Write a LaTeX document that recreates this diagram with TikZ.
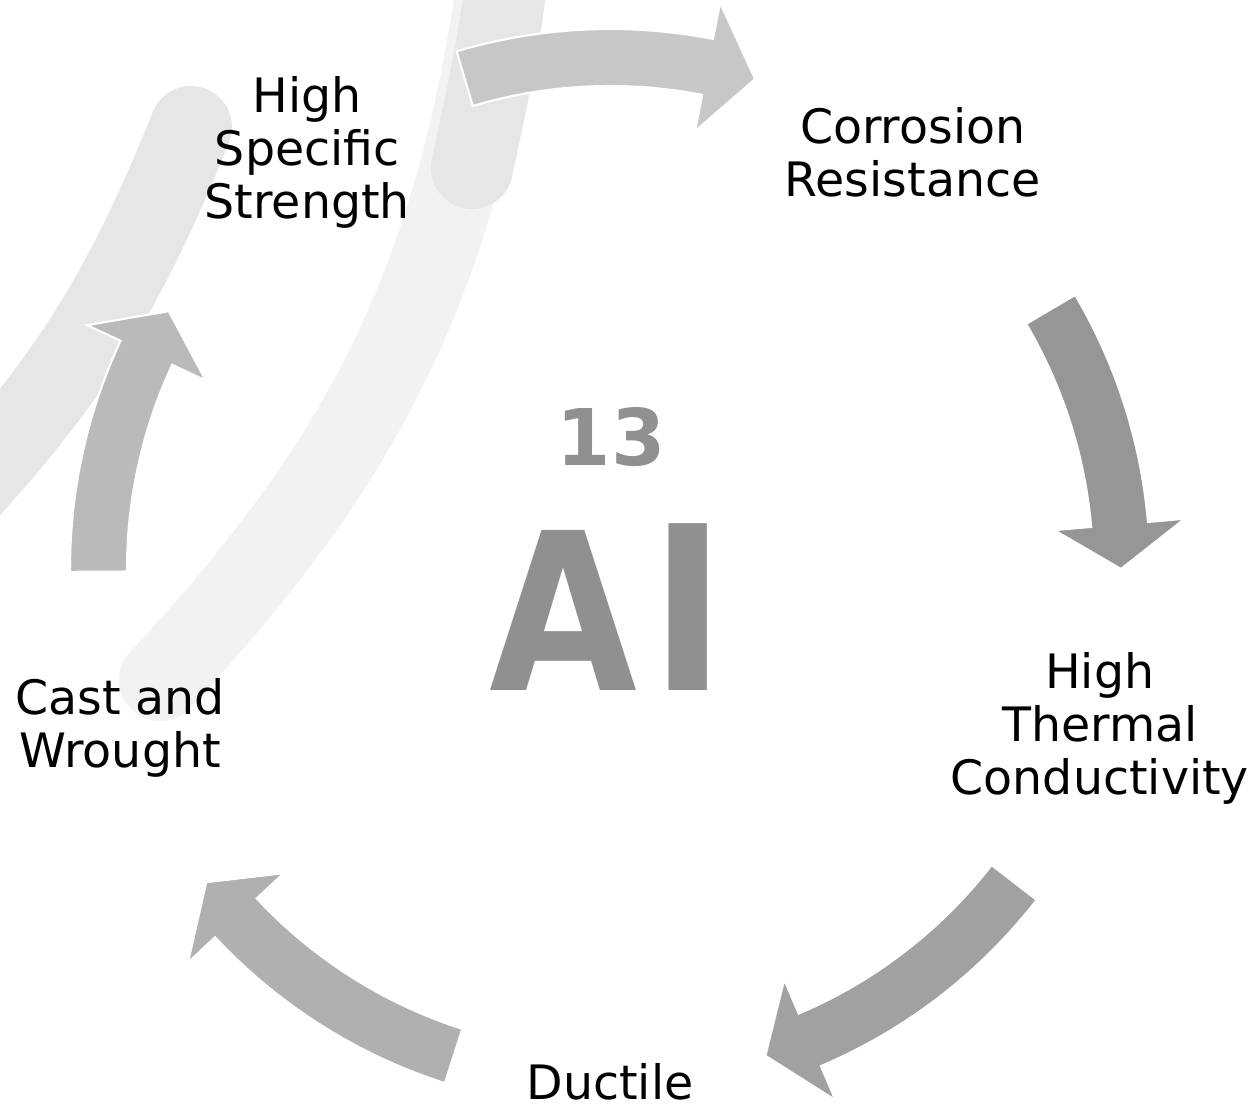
\documentclass[tikz,border=0pt]{standalone}
\usepackage{fontspec}
\setmainfont{DejaVu Sans}

\definecolor{bandlight}{HTML}{F2F2F2}
\definecolor{banddark}{HTML}{E6E6E6}
\definecolor{symgray}{HTML}{909090}

% curved cycle arrow: tail angle, head base angle, tip angle, fill
\newcommand{\cyclearrow}[4]{
  \filldraw[fill=#4, draw=white, line width=1.2pt]
    (#1:540) arc[start angle=#1, end angle=#2, radius=540]
    -- (#2:577) -- (#3:511) -- (#2:446) -- (#2:483)
    arc[start angle=#2, end angle=#1, radius=483] -- cycle;
}

\begin{document}
\begin{tikzpicture}[x=0.02cm, y=0.02cm,
    prop/.style={align=center, font=\fontsize{27}{30.2}\selectfont},
    band/.style={line width=1.64cm, line cap=round},
    element/.style={text=symgray, anchor=base, inner sep=0pt}]
  \useasboundingbox (-610,-541) rectangle (648,569);
  \clip (-610,-541) rectangle (648,569);

  % background swooshes
  \draw[band, bandlight] (-110,600) to[out=-98, in=47] (-450,-111);
  \draw[band, banddark] (-102,600) to[out=-97, in=78] (-138,401);
  \draw[band, banddark] (-419,442) to[out=-112, in=47] (-660,60);

  % cycle arrows
  \cyclearrow{106.5}{79}{73.5}{black!22}
  \cyclearrow{30.5}{5}{0}{black!41}
  \cyclearrow{-37.8}{-67}{-72.3}{black!37}
  \cyclearrow{-107.8}{-137}{-142.2}{black!31}
  \cyclearrow{180.3}{155}{149.7}{black!27}

  % properties
  \node (strength) [prop] at (126:515) {High\\Specific\\Strength};
  \node (corrosion) [prop] at (54:515) {Corrosion\\Resistance};
  \node (thermal) [prop] at (-18:515) {High\\Thermal\\Conductivity};
  \node (ductile) [prop, inner sep=1pt] at (-90:513) {Ductile};
  \node (cast) [prop] at (198:515) {Cast and\\Wrought};

  % element
  \node (number) [element, font=\bfseries\fontsize{44.5}{50}\selectfont] at (1,104) {13};
  \node (symbol) [element, font=\bfseries\fontsize{125}{130}\selectfont] at (-2,-121)
    {\scalebox{0.87}[1]{A}\kern0.06em l};
\end{tikzpicture}
\end{document}
